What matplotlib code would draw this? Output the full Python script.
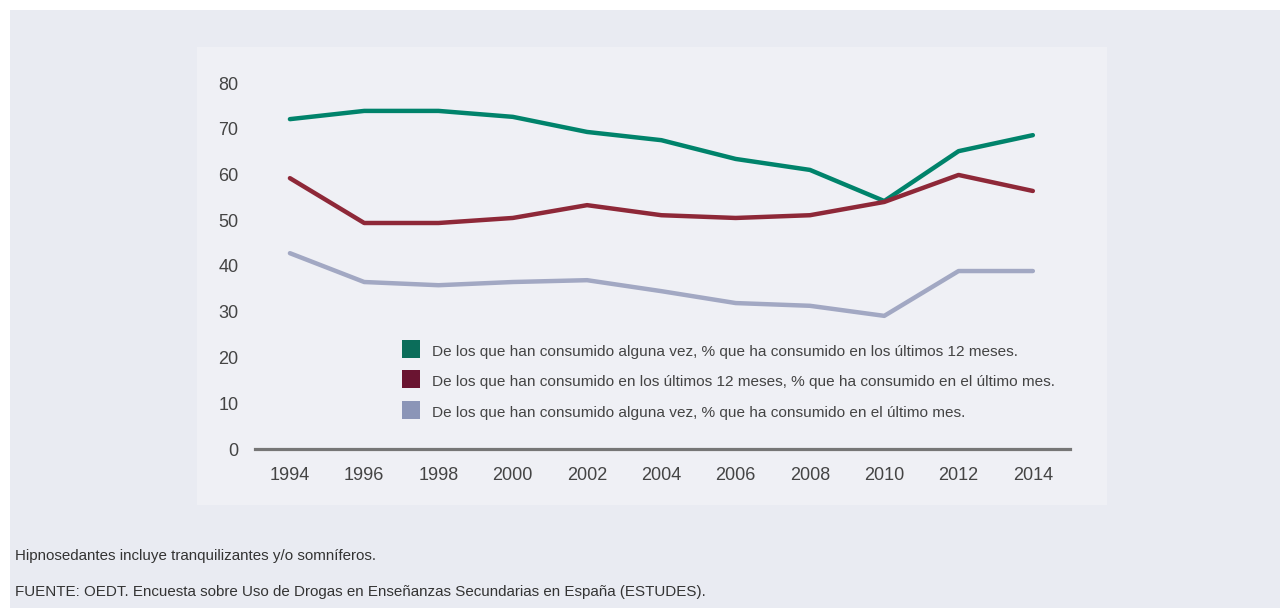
import matplotlib
matplotlib.use("Agg")
import matplotlib.pyplot as plt
from matplotlib.patches import Rectangle

# datos
years = [1994, 1996, 1998, 2000, 2002, 2004, 2006, 2008, 2010, 2012, 2014]
alguna_12m = [72.1, 73.9, 73.9, 72.6, 69.3, 67.5, 63.4, 61.0, 54.2, 65.1, 68.6]
m12_ultimo = [59.2, 49.4, 49.4, 50.5, 53.3, 51.1, 50.5, 51.1, 54.0, 59.9, 56.4]
alguna_ultimo = [42.8, 36.5, 35.8, 36.5, 36.9, 34.5, 31.9, 31.3, 29.1, 38.9, 38.9]

labels = [
    "De los que han consumido alguna vez, % que ha consumido en los últimos 12 meses.",
    "De los que han consumido en los últimos 12 meses, % que ha consumido en el último mes.",
    "De los que han consumido alguna vez, % que ha consumido en el último mes.",
]
line_colors = ["#00836b", "#8e2838", "#a2a8c3"]
patch_colors = ["#0b6d5a", "#6a1431", "#8b95b7"]
yticks = [0, 10, 20, 30, 40, 50, 60, 70, 80]

notes = [
    "Hipnosedantes incluye tranquilizantes y/o somníferos.",
    "FUENTE: OEDT. Encuesta sobre Uso de Drogas en Enseñanzas Secundarias en España (ESTUDES).",
]

plt.rcParams['font.family'] = ['Liberation Sans', 'DejaVu Sans']

W, H = 1284, 608
fig = plt.figure(figsize=(W / 100, H / 100), dpi=100, facecolor="white")

def fx(px):
    return px / W

def fy(py):
    return 1 - py / H

# fondos
fig.patches.append(Rectangle((fx(10), 0), fx(1280) - fx(10), fy(10), transform=fig.transFigure,
                             facecolor="#e9ebf2", edgecolor="none", zorder=0))
fig.patches.append(Rectangle((fx(197), fy(505)), fx(1107) - fx(197), fy(47) - fy(505),
                             transform=fig.transFigure, facecolor="#eff0f5", edgecolor="none", zorder=0))

ax = fig.add_axes([fx(255), fy(449), fx(1070) - fx(255), fy(83) - fy(449)])
ax.set_facecolor("none")
ax.set_zorder(3)

series = [alguna_12m, m12_ultimo, alguna_ultimo]
for vals, c in zip(series, line_colors):
    ax.plot(years, vals, color=c, lw=3.2, solid_capstyle="round", solid_joinstyle="round", clip_on=False)

ax.set_xlim(1993.06, 2015.0)
ax.set_ylim(0, 80)
ax.set_xticks(years)
ax.set_yticks(yticks)
ax.tick_params(length=0, labelsize=13, labelcolor="#444444")
ax.tick_params(axis="y", pad=12)
ax.tick_params(axis="x", pad=13)
for s in ["top", "right", "left"]:
    ax.spines[s].set_visible(False)
ax.spines["bottom"].set_color("#767676")
ax.spines["bottom"].set_linewidth(2.3)

# leyenda
rows_y = [349, 379, 410]
for lab, c, ry in zip(labels, patch_colors, rows_y):
    fig.patches.append(Rectangle((fx(402), fy(ry + 9)), fx(18), 18 / H, transform=fig.transFigure,
                                 facecolor=c, edgecolor="none", zorder=2))
    fig.text(fx(432), fy(ry + 3), lab, fontsize=11.1, color="#444444", va="center", ha="left")

fig.text(fx(15), fy(556), notes[0], fontsize=10.9, color="#333333", va="center")
fig.text(fx(15), fy(592), notes[1], fontsize=10.9, color="#333333", va="center")

fig.savefig("out.png", dpi=100, facecolor="white")
